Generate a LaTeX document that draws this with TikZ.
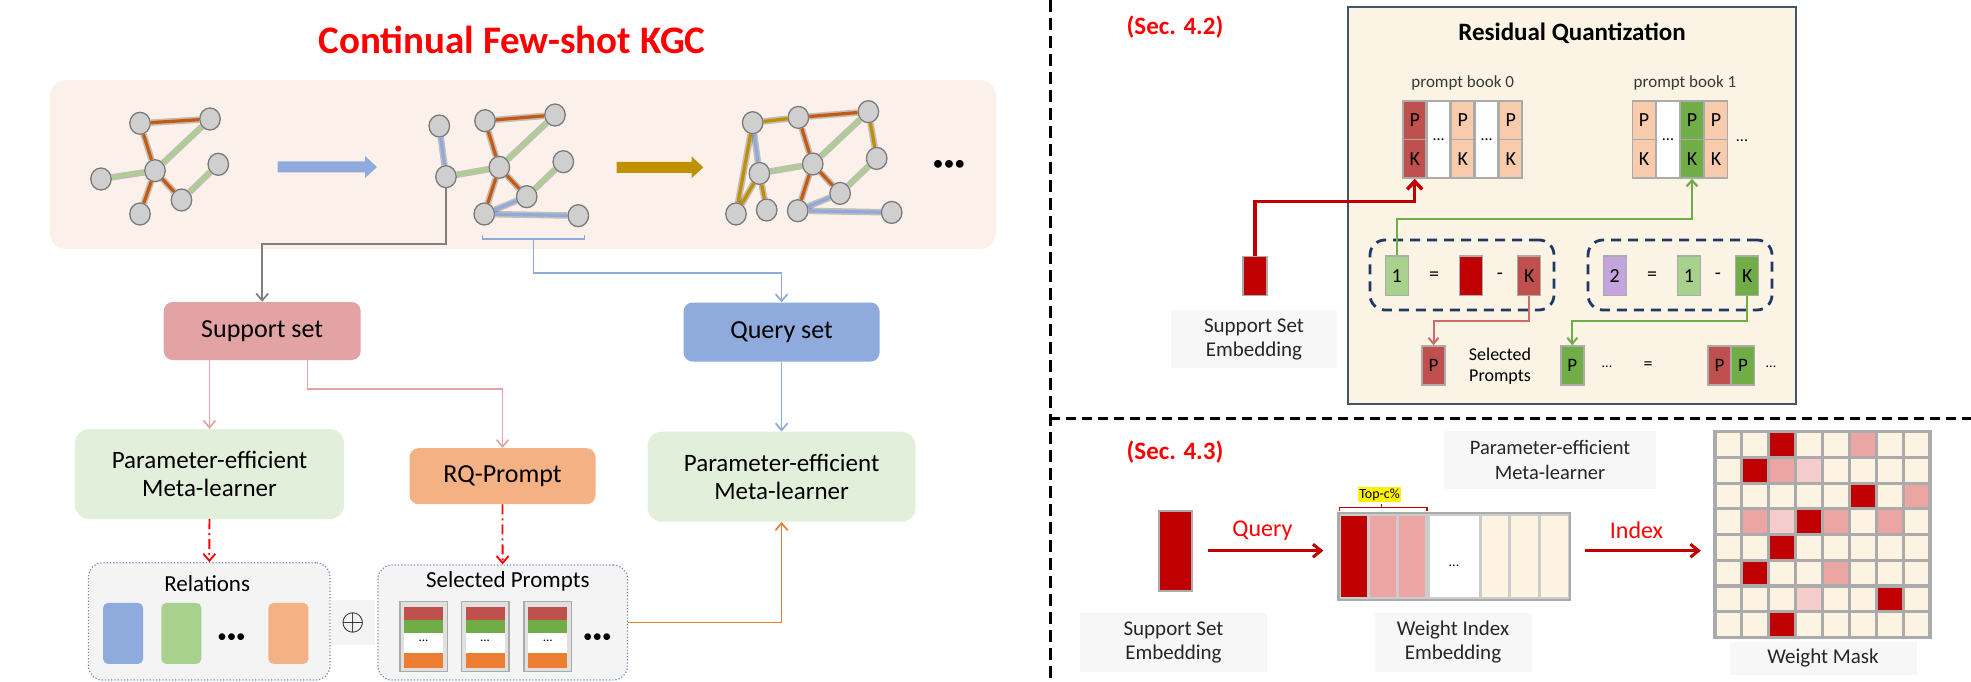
\documentclass[tikz,border=0pt]{standalone}
\usepackage{fontspec}
\setmainfont{Carlito}
\usepackage{graphicx}
\usepackage{tikz}
\usetikzlibrary{positioning,shapes.geometric,arrows.meta,calc}

\definecolor{peach}{HTML}{FCF1EA}
\definecolor{edgeorange}{HTML}{C55A11}
\definecolor{edgegreen}{HTML}{A9D18E}
\definecolor{edgeblue}{HTML}{8FAADC}
\definecolor{edgegold}{HTML}{BF9000}
\definecolor{vtxfill}{HTML}{CFCFCF}
\definecolor{vtxline}{HTML}{7A7A7A}
\definecolor{suppink}{HTML}{E3A2A3}
\definecolor{learngreen}{HTML}{E2EFDA}
\definecolor{rqorange}{HTML}{F4B183}
\definecolor{panelgray}{HTML}{F4F4F4}
\definecolor{paneledge}{HTML}{6F88B5}
\definecolor{pkred}{HTML}{C0504D}
\definecolor{pkgreen}{HTML}{70AD47}
\definecolor{pkorange}{HTML}{ED7D31}
\definecolor{bookorange}{HTML}{F8CBAD}
\definecolor{lilac}{HTML}{C3A5DD}
\definecolor{cream}{HTML}{FBF3E4}
\definecolor{navy}{HTML}{203864}
\definecolor{boxedge}{HTML}{44546A}
\definecolor{cellgray}{HTML}{ABABAB}
\definecolor{deepred}{HTML}{C00000}
\definecolor{pinkline}{HTML}{D06B6B}
\definecolor{maskpink}{HTML}{EBA5A3}
\definecolor{masklight}{HTML}{F4CCCC}
\definecolor{maskcream}{HTML}{FCF3E3}
\definecolor{labelbg}{HTML}{F7F7F7}
\definecolor{graylink}{HTML}{7F7F7F}

\newcommand{\fsz}[2]{\fontsize{#1}{#2}\selectfont}

\begin{document}
\begin{tikzpicture}[x=1pt,y=-1pt,
    vtx/.style={ellipse,draw=vtxline,fill=vtxfill,line width=1.3pt,minimum width=20.5pt,minimum height=22pt,inner sep=0pt},
    e/.style={line width=3.2pt,preaction={draw,line width=6.5pt,opacity=0.22}},
    eorg/.style={e,edgeorange},egrn/.style={e,edgegreen},eblu/.style={e,edgeblue},egld/.style={e,edgegold},
    box/.style={rounded corners=9pt,inner sep=0pt,align=center,font=\fsz{26}{30}},
    link/.style={line width=1.7pt,-{Straight Barb[length=7pt,width=12pt]}},
    ddot/.style={red,line width=1.8pt,dash pattern=on 10pt off 4pt on 2pt off 4pt,-{Straight Barb[length=7pt,width=12pt]}},
    panel/.style={draw=paneledge,line width=1.2pt,dotted,fill=panelgray,rounded corners=14pt,inner sep=0pt},
    relrect/.style={rounded corners=5pt,minimum width=40pt,minimum height=61pt,inner sep=0pt},
    tile/.style={draw=cellgray,line width=1.5pt,fill=black!12,minimum width=47.5pt,minimum height=70pt,inner sep=0pt},
    cell/.style={draw=cellgray,line width=1.5pt,minimum width=23pt,minimum height=38.5pt,inner sep=0pt,font=\fsz{20}{20}},
    grp/.style={draw=navy,line width=2.8pt,dash pattern=on 10pt off 7pt,rounded corners=15pt,minimum width=184pt,minimum height=70pt},
    txt/.style={inner sep=0pt,font=\fsz{20}{20}},
    lbl/.style={fill=labelbg,align=center,inner sep=0pt,font=\fsz{21}{24},text=black!85},
    sec/.style={text=red,font=\fsz{25}{25}\bfseries},
    bigarrow/.style={line width=3pt,-{Straight Barb[length=8pt,width=13pt]}}]
  \useasboundingbox (0,0) rectangle (1971,682);

  % left half: stream of graphs
  \node[text=red,font=\fsz{39}{44}\bfseries] (title) at (512,40) {Continual Few-shot KGC};
  \fill[peach,rounded corners=16pt] (50,80) rectangle (996,249);

  \node[vtx] (g1a) at (140,123.3) {};
  \node[vtx] (g1b) at (210,119) {};
  \node[vtx] (g1c) at (155,170.7) {};
  \node[vtx] (g1d) at (218.3,164.3) {};
  \node[vtx] (g1e) at (101,179) {};
  \node[vtx] (g1g) at (181.5,200) {};
  \node[vtx] (g1f) at (140,214) {};
  \draw[eorg] (g1a) -- (g1b);
  \draw[eorg] (g1a) -- (g1c);
  \draw[egrn] (g1b) -- (g1c);
  \draw[egrn] (g1e) -- (g1c);
  \draw[eorg] (g1c) -- (g1g);
  \draw[egrn] (g1g) -- (g1d);
  \draw[eorg] (g1c) -- (g1f);

  \fill[edgeblue] (277.5,161.5) -- (365,161.5) -- (365,156) -- (377,167) -- (365,178) -- (365,172.5) -- (277.5,172.5) -- cycle;
  \fill[edgegold] (616.7,161.8) -- (691.7,161.8) -- (691.7,156.5) -- (703.3,167.3) -- (691.7,178.1) -- (691.7,172.8) -- (616.7,172.8) -- cycle;

  \foreach \g/\dx/\dy in {g2/0/0,g3/313.4/-3.3} {
    \begin{scope}[shift={(\dx,\dy)},name prefix=\g]
      \node[vtx] (n1) at (439.3,126) {};
      \node[vtx] (n2) at (446,176.7) {};
      \node[vtx] (n3) at (485,120.7) {};
      \node[vtx] (n4) at (555,115) {};
      \node[vtx] (n5) at (499.3,167.3) {};
      \node[vtx] (n6) at (563.3,161.7) {};
      \node[vtx] (n7) at (526.7,196.7) {};
      \node[vtx] (n8) at (484.3,214) {};
      \node[vtx] (n9) at (578.3,215.7) {};
      \draw[eblu] (n1) -- (n2);
      \draw[egrn] (n2) -- (n5);
      \draw[eorg] (n3) -- (n4);
      \draw[eorg] (n3) -- (n5);
      \draw[egrn] (n5) -- (n4);
      \draw[eorg] (n5) -- (n7);
      \draw[eorg] (n5) -- (n8);
      \draw[egrn] (n7) -- (n6);
      \draw[eblu] (n8) -- (n7);
      \draw[eblu] (n8) -- (n9);
    \end{scope}
  }
  \node[vtx] (g3n10) at (736,214) {};
  \node[vtx] (g3n11) at (766.7,210) {};
  \draw[egld] (g3n1) -- (g3n3);
  \draw[egld] (g3n1) -- (g3n10);
  \draw[egld] (g3n10) -- (g3n2);
  \draw[egld] (g3n2) -- (g3n11);
  \draw[egld] (g3n4) -- (g3n6);
  \node[font=\fsz{22}{22}] (more) at (949,165) {\textbullet\textbullet\textbullet};

  % left half: flow
  \node[box,fill=suppink,minimum width=197pt,minimum height=58pt] (sup) at (262.2,331) {Support set};
  \node[box,fill=edgeblue,minimum width=196pt,minimum height=59pt] (qry) at (781.6,332) {Query set};
  \node[box,fill=learngreen,rounded corners=14pt,minimum width=269pt,minimum height=90pt,font=\fsz{25}{28}] (prl) at (209.5,474) {Parameter-efficient\\Meta-learner};
  \node[box,fill=rqorange,minimum width=186pt,minimum height=56pt] (rq) at (502.5,476.2) {RQ-Prompt};
  \node[box,fill=learngreen,rounded corners=14pt,minimum width=268pt,minimum height=90pt,font=\fsz{25}{28}] (prr) at (781.6,476.7) {Parameter-efficient\\Meta-learner};

  \draw[link,graylink] (g2n2) -- ++(0,67.3) -| (sup);
  \draw[edgeblue,line width=1.7pt] (482.6,235) -- (482.6,239.3) -- (584.4,239.3) -- (584.4,235);
  \coordinate (brk) at (533.5,239.3);
  \draw[link,edgeblue] (brk) -- ++(0,33.4) -| (qry);
  \draw[link,suppink] (prl.north |- sup.south) -- (prl);
  \draw[link,suppink] ([xshift=45.4pt]sup.south) -- ++(0,29) -| (rq);
  \draw[link,edgeblue] (qry) -- (prr);

  \node[panel,minimum width=241.4pt,minimum height=117.3pt] (rel) at (209.2,621.4) {};
  \node[font=\fsz{23}{23}] (reltxt) at (207.2,584) {Relations};
  \node[relrect,fill=edgeblue] (r1) at (123.1,633.4) {};
  \node[relrect,fill=edgegreen] (r2) at (181.3,633.4) {};
  \node[font=\fsz{19}{19}] (rdots) at (231.5,638) {\textbullet\textbullet\textbullet};
  \node[relrect,fill=rqorange] (r3) at (288.4,633.4) {};
  \node[fill=panelgray,minimum width=44pt,minimum height=45pt,inner sep=0pt,font=\fsz{20}{20}] (plus) at (352.7,622.5) {\scalebox{1.45}{$\oplus$}};

  \node[panel,minimum width=249.6pt,minimum height=115pt] (sel) at (502.7,622.5) {};
  \node[font=\fsz{23}{23}] (seltxt) at (507.8,581.7) {Selected Prompts};
  \foreach \x [count=\k] in {423.5,485,547.8} {
    \node[tile] (st\k) at (\x,636.7) {};
    \fill[pkred] (\x-19.5,607) rectangle (\x+19.5,620);
    \fill[pkgreen] (\x-19.5,620) rectangle (\x+19.5,633.3);
    \fill[white] (\x-19.5,633.3) rectangle (\x+19.5,653);
    \fill[pkorange] (\x-19.5,653) rectangle (\x+19.5,667.5);
    \node[font=\fsz{13}{13}] (std\k) at (\x,641) {...};
  }
  \node[font=\fsz{19}{19}] (sdots) at (597.4,638) {\textbullet\textbullet\textbullet};

  \draw[ddot] (prl) -- (rel);
  \draw[ddot] (rq) -- (sel);
  \draw[link,pkorange] (sel) -| (prr);

  % separators
  \draw[line width=3pt,dash pattern=on 12pt off 6pt] (1050,0) -- (1050,682);
  \draw[line width=3pt,dash pattern=on 10pt off 6pt] (1050,418.3) -- (1971,418.3);

  % residual quantization
  \node[sec] (sec2) at (1175,27) {(Sec. 4.2)};
  \node[draw=boxedge,fill=cream,line width=2pt,minimum width=448pt,minimum height=397pt] (rqbox) at (1572,205.5) {};
  \node[font=\fsz{25}{25}\bfseries] (rqtitle) at (1572,33) {Residual Quantization};
  \node[txt,font=\fsz{17}{17},text=black!78] (book0) at (1462.7,83) {prompt book 0};
  \node[txt,font=\fsz{17}{17},text=black!78] (book1) at (1685,83) {prompt book 1};
  \foreach \i/\c in {0/pkred,2/bookorange,4/bookorange} {
    \node[cell,fill=\c] (b0p\i) at (1414.7+24*\i,120.3) {P};
    \node[cell,fill=\c] (b0k\i) at (1414.7+24*\i,158.8) {K};
  }
  \foreach \i in {1,3}
    \node[cell,minimum height=77pt,fill=white,font=\fsz{16}{16}] (b0d\i) at (1414.7+24*\i,139.5) {...};
  \foreach \i/\c in {0/bookorange,2/pkgreen,3/bookorange} {
    \node[cell,fill=\c] (b1p\i) at (1644+24*\i,120.3) {P};
    \node[cell,fill=\c] (b1k\i) at (1644+24*\i,158.8) {K};
  }
  \node[cell,minimum height=77pt,fill=white,font=\fsz{16}{16}] (b1d1) at (1668,139.5) {...};
  \node[txt,font=\fsz{16}{16}] (b1more) at (1742,141) {...};

  \node[grp] (grp1) at (1462,275) {};
  \node[grp] (grp2) at (1680,275) {};
  \node[cell,fill=edgegreen,minimum height=39.5pt] (q1a) at (1396.8,275.9) {1};
  \node[txt] (q1eq) at (1434,275.9) {=};
  \node[cell,fill=deepred,minimum height=39.5pt] (q1r) at (1471,275.9) {};
  \node[txt] (q1m) at (1500,275.9) {-};
  \node[cell,fill=pkred,minimum height=39.5pt] (q1k) at (1529.2,275.9) {K};
  \node[cell,fill=lilac,minimum height=39.5pt] (q2a) at (1614.8,275.9) {2};
  \node[txt] (q2eq) at (1652,275.9) {=};
  \node[cell,fill=edgegreen,minimum height=39.5pt] (q2b) at (1689,275.9) {1};
  \node[txt] (q2m) at (1718,275.9) {-};
  \node[cell,fill=pkgreen,minimum height=39.5pt] (q2k) at (1747.2,275.9) {K};

  \node[cell,fill=pkred,minimum height=39pt,font=\fsz{19}{19}] (sp1) at (1433.5,365.5) {P};
  \node[txt,align=center,font=\fsz{18}{21}] (sptxt) at (1500,366) {Selected\\Prompts};
  \node[cell,fill=pkgreen,minimum height=39pt,font=\fsz{19}{19}] (sp2) at (1572.3,365.5) {P};
  \node[txt,font=\fsz{14}{14}] (spdots) at (1607,367) {...};
  \node[txt,font=\fsz{18}{18}] (speq) at (1648,365.5) {=};
  \node[cell,fill=pkred,minimum height=39pt,font=\fsz{19}{19}] (pp1) at (1719.5,365.5) {P};
  \node[cell,fill=pkgreen,minimum height=39pt,font=\fsz{19}{19}] (pp2) at (1743,365.5) {P};
  \node[txt,font=\fsz{14}{14}] (ppdots) at (1771,367) {...};

  \node[draw=cellgray,line width=1.5pt,fill=deepred,minimum width=24pt,minimum height=38.8pt,inner sep=0pt] (sse) at (1255,276.1) {};
  \node[lbl,minimum width=166pt,minimum height=58pt] (ssetop) at (1254,339) {Support Set\\Embedding};

  \draw[deepred,line width=3.5pt,-{Straight Barb[length=8pt,width=15pt]}] (sse) -- ++(0,-74.6) -| (b0k0);
  \draw[pkgreen,line width=2.2pt,-{Straight Barb[length=6pt,width=11pt]}] (q1a) -- ++(0,-57) -| (b1k2);
  \draw[pinkline,line width=2pt,-{Straight Barb[length=6pt,width=10pt]}] (q1k) -- ++(0,45.2) -| (sp1);
  \draw[pkgreen,line width=2pt,-{Straight Barb[length=6pt,width=10pt]}] (q2k) -- ++(0,45.2) -| (sp2);

  % weight mask
  \node[sec] (sec3) at (1175,452) {(Sec. 4.3)};
  \node[lbl,minimum width=212pt,minimum height=58pt,font=\fsz{20.5}{25}] (pelbl) at (1550,460) {Parameter-efficient\\Meta-learner};
  \node[draw=cellgray,line width=2pt,fill=deepred,minimum width=32.6pt,minimum height=80pt,inner sep=0pt] (emb) at (1175.3,550.7) {};
  \node[draw=cellgray,line width=2.5pt,fill=black!20,minimum width=231.2pt,minimum height=87.3pt,inner sep=0pt] (wie) at (1454.2,556.4) {};
  \foreach \x/\w/\c in {1354.4/26/deepred,1383.3/26/maskpink,1412.1/26/maskpink,1454.1/49/white,1494.8/26/maskcream,1524.4/26.5/maskcream,1554.4/27/maskcream}
    \fill[\c] (\x-\w/2,515.5) rectangle (\x+\w/2,597.3);
  \node[txt,font=\fsz{14}{14}] (wiedots) at (1454,566) {...};
  \draw[deepred,line width=1.3pt] (1339.5,511) -- (1339.5,507.5) -- (1427,507.5) -- (1427,511);
  \draw[deepred,line width=1.3pt] (1381.8,507.5) -- (1381.8,503.5);
  \node[fill=yellow,inner sep=1.2pt,font=\fsz{14}{14}] (topc) at (1379.6,494.5) {Top-c\%};

  \node[draw=none,fill=maskcream,minimum width=215pt,minimum height=205.6pt,inner sep=0pt] (mask) at (1822.5,534.5) {};
  \foreach \r/\c/\col in {1/3/deepred,1/6/maskpink,2/2/deepred,2/3/maskpink,2/4/masklight,3/6/deepred,3/8/maskpink,
      4/2/maskpink,4/3/masklight,4/4/deepred,4/5/maskpink,4/7/maskpink,5/3/deepred,6/2/deepred,6/5/maskpink,
      7/4/masklight,7/7/deepred,8/3/deepred}
    \fill[\col] (1715+26.875*\c-26.875,431.7+25.7*\r-25.7) rectangle ++(26.875,25.7);
  \foreach \k in {0,...,8} {
    \draw[cellgray,line width=3.2pt] (1715+26.875*\k,430.1) -- ++(0,208.8);
    \draw[cellgray,line width=3.2pt] (1713.4,431.7+25.7*\k) -- ++(218.2,0);
  }

  \node[text=red,font=\fsz{24}{24}] (qtxt) at (1262.5,531) {Query};
  \node[text=red,font=\fsz{24}{24}] (itxt) at (1636.5,530) {Index};
  \draw[bigarrow,deepred,shorten <=15pt,shorten >=14pt] (emb.east) -- (emb.east -| wie.west);
  \draw[bigarrow,deepred,shorten <=14pt,shorten >=14pt] (emb.east -| wie.east) -- (emb.east -| mask.west);

  \node[lbl,minimum width=187pt,minimum height=59pt] (ssebot) at (1173.5,642.2) {Support Set\\Embedding};
  \node[lbl,minimum width=157pt,minimum height=59pt] (wielbl) at (1453,642.2) {Weight Index\\Embedding};
  \node[lbl,minimum width=187pt,minimum height=33pt] (masklbl) at (1823,658.4) {Weight Mask};
\end{tikzpicture}
\end{document}
